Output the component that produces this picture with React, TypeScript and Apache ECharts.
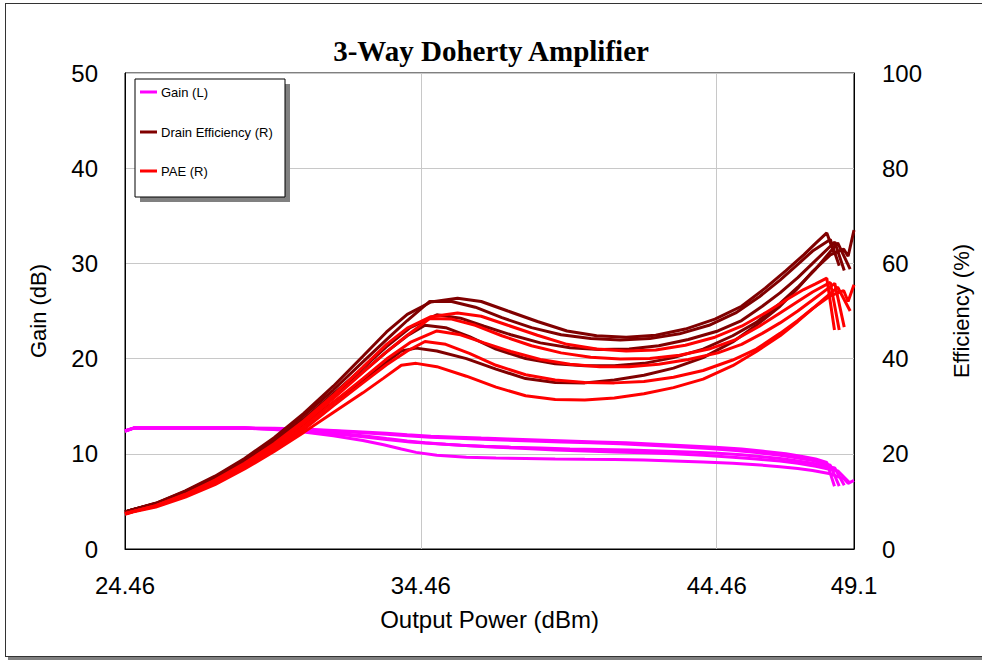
import React, { useEffect, useRef } from "react";
import * as echarts from "echarts";

// ---- Data ----
const titleText = "3-Way Doherty Amplifier";
const xTickValues = [24.46, 34.46, 44.46, 49.1];

const poutF1 = [24.46, 24.75, 25.5, 26.5, 27.5, 28.5, 29.5, 30.5, 31.5, 32.5, 33.3, 34.0, 34.8, 35.7, 36.5, 37.4, 38.4, 39.4, 40.4, 41.4, 42.4, 43.4, 44.4, 45.3, 46.1, 46.8, 47.4, 47.8, 48.18, 48.44];
const gainF1 = [12.4, 12.7, 12.7, 12.7, 12.7, 12.7, 12.68, 12.6, 12.45, 12.3, 12.15, 12.0, 11.85, 11.75, 11.65, 11.55, 11.45, 11.35, 11.25, 11.15, 11.0, 10.85, 10.7, 10.5, 10.25, 10.0, 9.7, 9.45, 9.1, 6.6];
const deF1 = [7.8, 8.3, 9.6, 12.2, 15.3, 19.0, 23.4, 28.5, 34.2, 40.5, 45.6, 49.3, 51.9, 52.7, 52.0, 50.0, 47.8, 45.8, 44.8, 44.5, 44.9, 46.2, 48.3, 51.0, 54.8, 58.5, 61.8, 64.2, 66.4, 62.0];
const paeF1 = [7.4, 7.9, 9.1, 11.5, 14.5, 18.0, 22.1, 26.9, 32.3, 38.2, 43.0, 46.4, 48.8, 49.6, 48.9, 47.0, 44.9, 43.0, 42.0, 41.6, 41.8, 42.8, 44.5, 46.8, 49.6, 52.3, 54.5, 55.7, 56.9, 46.0];

const poutF2 = [24.46, 24.75, 25.5, 26.5, 27.5, 28.5, 29.5, 30.5, 31.5, 32.5, 33.3, 34.0, 34.76, 35.5, 36.3, 37.2, 38.2, 39.2, 40.2, 41.2, 42.2, 43.2, 44.2, 45.1, 45.9, 46.6, 47.2, 47.7, 48.3, 48.6];
const gainF2 = [12.4, 12.7, 12.7, 12.7, 12.7, 12.7, 12.65, 12.55, 12.4, 12.2, 12.05, 11.9, 11.75, 11.65, 11.55, 11.45, 11.35, 11.25, 11.15, 11.05, 10.9, 10.75, 10.55, 10.35, 10.1, 9.85, 9.55, 9.3, 8.8, 6.6];
const deF2 = [7.8, 8.3, 9.6, 12.1, 15.1, 18.8, 23.1, 28.0, 33.4, 39.3, 44.0, 48.0, 52.0, 52.0, 50.8, 48.6, 46.5, 45.0, 44.2, 43.9, 44.2, 45.2, 47.0, 49.6, 53.0, 56.5, 59.8, 62.6, 65.0, 59.5];
const paeF2 = [7.4, 7.9, 9.1, 11.4, 14.3, 17.8, 21.8, 26.4, 31.6, 37.1, 41.4, 44.9, 48.4, 48.3, 47.0, 44.8, 42.7, 41.2, 40.3, 39.9, 40.0, 40.7, 42.0, 44.0, 46.8, 49.6, 52.0, 54.0, 56.0, 46.0];

const poutF3 = [24.46, 24.75, 25.5, 26.5, 27.5, 28.5, 29.5, 30.5, 31.5, 32.5, 33.3, 34.1, 35.0, 35.8, 36.6, 37.5, 38.5, 39.5, 40.5, 41.5, 42.5, 43.5, 44.5, 45.3, 46.0, 46.6, 47.2, 47.7, 48.45, 48.77];
const gainF3 = [12.4, 12.7, 12.7, 12.7, 12.7, 12.7, 12.6, 12.4, 12.1, 11.8, 11.5, 11.25, 11.05, 10.9, 10.8, 10.7, 10.6, 10.5, 10.45, 10.4, 10.3, 10.2, 10.05, 9.9, 9.7, 9.5, 9.25, 9.0, 8.5, 6.7];
const deF3 = [7.8, 8.3, 9.5, 12.0, 14.9, 18.5, 22.6, 27.3, 32.6, 38.0, 42.5, 46.5, 49.2, 48.5, 46.8, 45.0, 43.3, 42.3, 41.9, 42.0, 42.7, 44.0, 45.8, 48.0, 51.0, 53.8, 57.0, 60.0, 64.5, 58.5];
const paeF3 = [7.4, 7.9, 9.0, 11.3, 14.1, 17.5, 21.3, 25.7, 30.8, 35.8, 39.9, 43.4, 45.8, 45.0, 43.3, 41.5, 39.8, 38.8, 38.3, 38.3, 38.8, 39.8, 41.2, 43.0, 45.3, 47.5, 50.0, 52.3, 55.8, 46.6];

const poutF4 = [24.46, 24.75, 25.5, 26.5, 27.5, 28.5, 29.5, 30.5, 31.5, 32.5, 33.3, 34.0, 34.6, 35.3, 36.1, 37.0, 38.0, 39.0, 40.0, 41.0, 42.0, 43.0, 44.0, 45.0, 45.8, 46.6, 47.2, 47.8, 48.55, 48.97];
const gainF4 = [12.4, 12.7, 12.7, 12.7, 12.7, 12.7, 12.6, 12.45, 12.2, 11.9, 11.6, 11.35, 11.15, 11.0, 10.85, 10.7, 10.55, 10.4, 10.3, 10.2, 10.1, 10.0, 9.85, 9.65, 9.45, 9.25, 9.0, 8.7, 8.2, 6.9];
const deF4 = [7.8, 8.3, 9.5, 11.9, 14.7, 18.2, 22.2, 26.7, 31.9, 37.2, 41.4, 44.8, 47.0, 46.5, 44.6, 42.0, 40.0, 38.9, 38.5, 38.5, 39.0, 40.2, 42.0, 44.8, 47.6, 51.6, 55.0, 58.8, 64.3, 58.8];
const paeF4 = [7.4, 7.9, 9.0, 11.2, 13.9, 17.2, 20.9, 25.1, 30.1, 34.9, 38.7, 41.6, 43.6, 43.0, 41.1, 38.6, 36.6, 35.5, 35.0, 34.9, 35.2, 36.1, 37.5, 39.7, 42.0, 45.3, 48.0, 51.0, 55.0, 50.0];

const poutF5 = [24.46, 24.75, 25.5, 26.5, 27.5, 28.5, 29.5, 30.5, 31.5, 32.5, 33.2, 33.8, 34.3, 35.0, 36.0, 37.0, 38.0, 39.0, 40.0, 41.0, 42.0, 43.0, 44.0, 45.0, 45.8, 46.6, 47.2, 47.7, 48.3, 48.75, 48.9, 49.1];
const gainF5 = [12.4, 12.7, 12.7, 12.7, 12.7, 12.7, 12.55, 12.3, 11.9, 11.4, 10.95, 10.5, 10.15, 9.85, 9.65, 9.55, 9.5, 9.45, 9.42, 9.4, 9.35, 9.25, 9.15, 9.0, 8.85, 8.65, 8.45, 8.25, 7.9, 7.4, 6.9, 7.2];
const deF5 = [7.8, 8.3, 9.4, 11.7, 14.5, 18.0, 22.0, 26.3, 30.8, 35.3, 38.8, 41.6, 42.2, 41.6, 40.0, 37.8, 35.8, 35.0, 34.9, 35.5, 36.5, 38.0, 40.2, 43.5, 47.0, 51.0, 54.8, 58.3, 61.8, 63.0, 61.5, 67.0];
const paeF5 = [7.3, 7.8, 8.8, 10.9, 13.5, 16.8, 20.5, 24.5, 28.7, 32.8, 35.9, 38.6, 39.0, 38.3, 36.3, 34.0, 32.2, 31.4, 31.3, 31.7, 32.6, 33.9, 35.7, 38.5, 41.5, 44.8, 47.8, 50.5, 53.2, 54.3, 52.0, 55.5];

const legendNames = ["Gain (L)", "Drain Efficiency (R)", "PAE (R)"];
const colors = ["#ff00ff", "#800000", "#ff0000"];

export default function App() {
  const ref = useRef<HTMLDivElement>(null);

  useEffect(() => {
    if (!ref.current) return;
    const chart = echarts.init(ref.current, null, { renderer: "svg" });

    const freqs = [
      { pout: poutF1, gain: gainF1, de: deF1, pae: paeF1 },
      { pout: poutF2, gain: gainF2, de: deF2, pae: paeF2 },
      { pout: poutF3, gain: gainF3, de: deF3, pae: paeF3 },
      { pout: poutF4, gain: gainF4, de: deF4, pae: paeF4 },
      { pout: poutF5, gain: gainF5, de: deF5, pae: paeF5 },
    ];
    const pair = (xs: number[], ys: number[]) => xs.map((x, i) => [x, ys[i]]);
    const mk = (name: string, color: string, yAxisIndex: number, data: number[][]) => ({
      type: "line",
      name,
      yAxisIndex,
      data,
      symbol: "none",
      showSymbol: false,
      smooth: false,
      lineStyle: { color, width: 3 },
      itemStyle: { color },
      emphasis: { disabled: true },
    });
    const series: any[] = [];
    freqs.forEach((f) => series.push(mk(legendNames[0], colors[0], 0, pair(f.pout, f.gain))));
    freqs.forEach((f) => series.push(mk(legendNames[1], colors[1], 1, pair(f.pout, f.de))));
    freqs.forEach((f) => series.push(mk(legendNames[2], colors[2], 1, pair(f.pout, f.pae))));

    const font = "Liberation Sans, Arial, sans-serif";
    const lx = 135, ly = 79, lw = 150, lh = 118;
    const legendYs = [92, 132, 171];
    const legendEls: any[] = [
      { type: "rect", z: 100, shape: { x: lx + 5, y: ly + 5, width: lw, height: lh }, style: { fill: "#808080" } },
      { type: "rect", z: 101, shape: { x: lx, y: ly, width: lw, height: lh }, style: { fill: "#fff", stroke: "#000", lineWidth: 1 } },
    ];
    legendNames.forEach((n, i) => {
      legendEls.push({
        type: "line", z: 102,
        shape: { x1: lx + 5, y1: legendYs[i], x2: lx + 22, y2: legendYs[i] },
        style: { stroke: colors[i], lineWidth: 3 },
      });
      legendEls.push({
        type: "text", z: 102, x: lx + 26, y: legendYs[i],
        style: { text: n, fill: "#000", font: `13px ${font}`, textVerticalAlign: "middle", textAlign: "left" },
      });
    });

    chart.setOption({
      animation: false,
      backgroundColor: "transparent",
      title: {
        text: titleText,
        left: "center",
        top: 31,
        textStyle: { fontFamily: "Liberation Serif, Times New Roman, serif", fontWeight: "bold", fontSize: 29, color: "#000" },
      },
      grid: { left: 125, right: 128, top: 73, bottom: 112, show: true, borderColor: "#000", borderWidth: 1, backgroundColor: "#fff" },
      xAxis: {
        type: "value",
        min: 24.46,
        max: 49.1,
        name: "Output Power (dBm)",
        nameLocation: "middle",
        nameGap: 58,
        nameTextStyle: { fontFamily: font, fontSize: 24, color: "#000" },
        axisLine: { show: true, lineStyle: { color: "#000", width: 1 } },
        axisTick: { show: false, customValues: xTickValues },
        axisLabel: { customValues: xTickValues, formatter: (v: number) => String(v), margin: 24, fontFamily: font, fontSize: 24, color: "#000" },
        splitLine: { show: true, lineStyle: { color: "#c8c8c8", width: 1 } },
      },
      yAxis: [
        {
          type: "value", position: "left", min: 0, max: 50, interval: 10,
          name: "Gain (dB)", nameLocation: "middle", nameGap: 76, nameRotate: 90,
          nameTextStyle: { fontFamily: font, fontSize: 22, color: "#000" },
          axisLine: { show: true, lineStyle: { color: "#000" } },
          axisTick: { show: false },
          axisLabel: { margin: 27, fontFamily: font, fontSize: 24, color: "#000" },
          splitLine: { show: true, lineStyle: { color: "#c8c8c8", width: 1 } },
        },
        {
          type: "value", position: "right", min: 0, max: 100, interval: 20,
          name: "Efficiency (%)", nameLocation: "middle", nameGap: 96, nameRotate: 90,
          nameTextStyle: { fontFamily: font, fontSize: 22, color: "#000" },
          axisLine: { show: true, lineStyle: { color: "#000" } },
          axisTick: { show: false },
          axisLabel: { margin: 28, fontFamily: font, fontSize: 24, color: "#000" },
          splitLine: { show: false },
        },
      ],
      graphic: legendEls,
      series,
    });

    return () => chart.dispose();
  }, []);

  return (
    <div style={{ position: "absolute", left: 0, top: 0, width: 982, height: 661, background: "#fff", overflow: "hidden" }}>
      <div style={{ position: "absolute", left: 8, top: 6, width: 990, height: 654, background: "#808080" }} />
      <div style={{ position: "absolute", left: 5, top: 3, width: 990, height: 654, boxSizing: "border-box", border: "1px solid #333", background: "#fff" }} />
      <div ref={ref} style={{ position: "absolute", left: 0, top: 0, width: 982, height: 661 }} />
    </div>
  );
}
